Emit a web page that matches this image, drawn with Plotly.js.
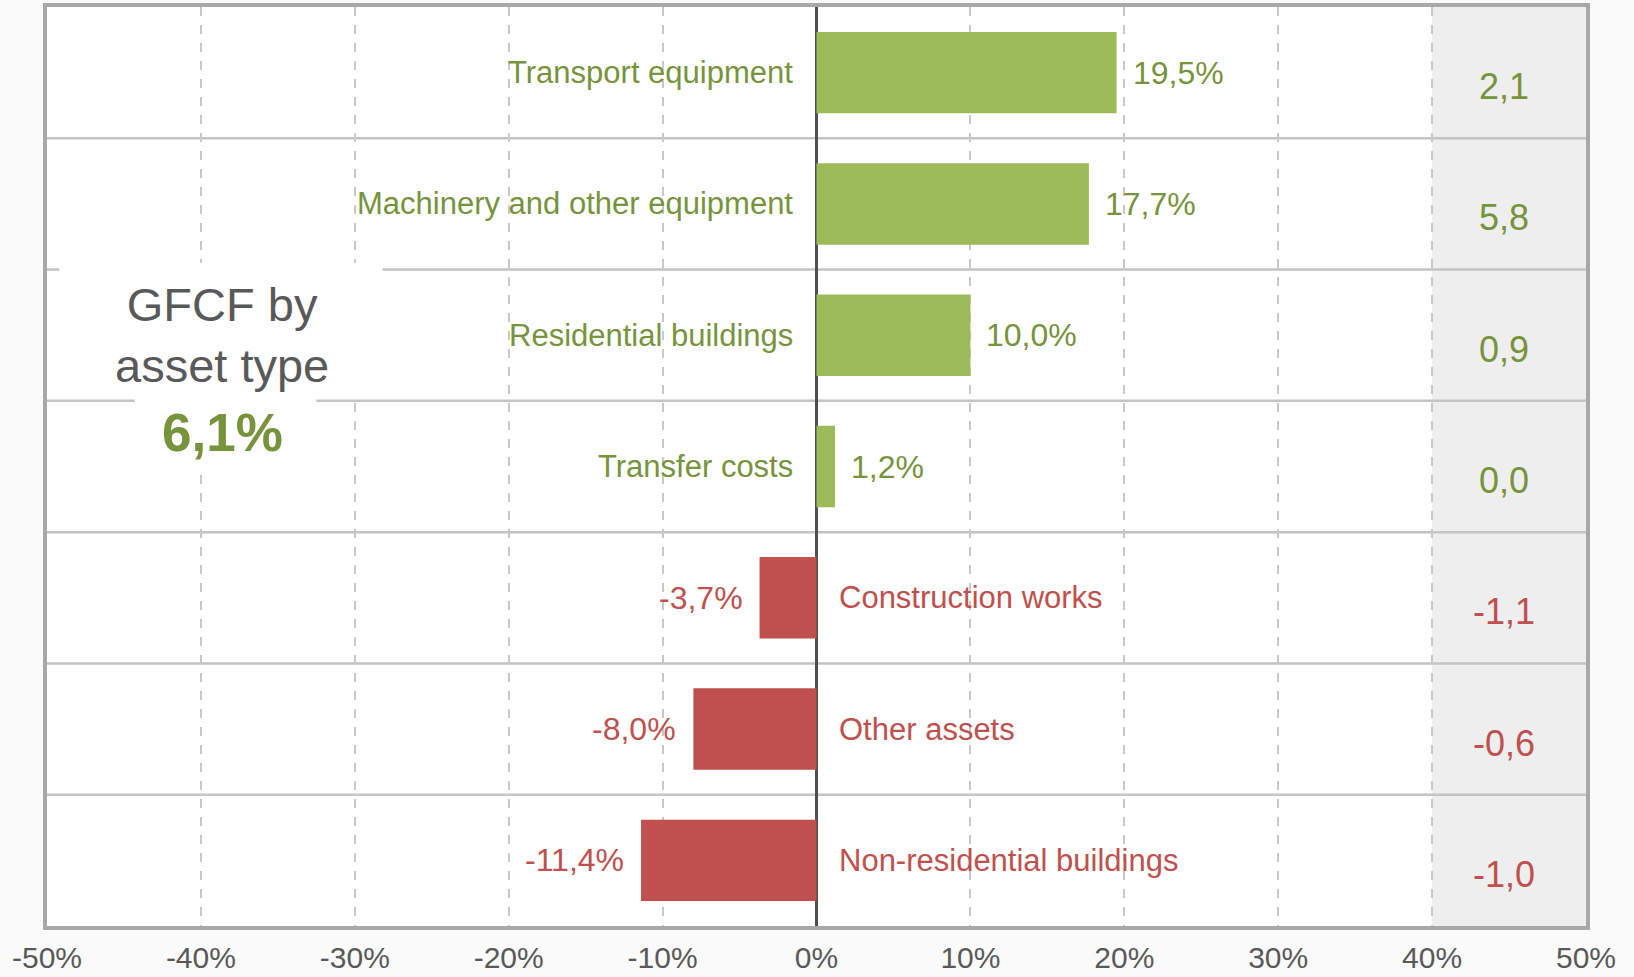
<!DOCTYPE html>
<html>
<head>
<meta charset="utf-8">
<script src="https://cdn.plot.ly/plotly-3.0.1.min.js"></script>
<style>
html,body{margin:0;padding:0;background:#fafafa;}
#chart{width:1634px;height:977px;}
</style>
</head>
<body>
<div id="chart"></div>
<script>
// ---- data ----
const categories = ["Transport equipment","Machinery and other equipment","Residential buildings","Transfer costs","Construction works","Other assets","Non-residential buildings"];
const growth = [19.5, 17.7, 10.0, 1.2, -3.7, -8.0, -11.4];
const growthLabels = ["19,5%","17,7%","10,0%","1,2%","-3,7%","-8,0%","-11,4%"];
const contributionLabels = ["2,1","5,8","0,9","0,0","-1,1","-0,6","-1,0"];
const contributionSign = [1, 1, 1, 0, -1, -1, -1];
const tickVals = [-50,-40,-30,-20,-10,0,10,20,30,40,50];
const tickText = ["-50%","-40%","-30%","-20%","-10%","0%","10%","20%","30%","40%","50%"];
const titleLines = "GFCF by<br>asset type";
const totalLabel = "6,1%";

// ---- styles ----
const GREEN_BAR = "#9BBB59", RED_BAR = "#C0504D";
const GREEN_TXT = "#77933C", RED_TXT = "#C0504D";
const FONT = "Liberation Sans, Arial, sans-serif";

const barColors = growth.map(v => v >= 0 ? GREEN_BAR : RED_BAR);

const trace = {
  type: "bar",
  orientation: "h",
  x: growth,
  y: categories,
  width: 0.62,
  marker: {color: barColors, line: {width: 0}},
  hoverinfo: "x+y",
  showlegend: false
};

const annotations = [];
categories.forEach((c, i) => {
  const pos = growth[i] >= 0;
  annotations.push({
    x: 0, y: c, xref: "x", yref: "y",
    text: c, showarrow: false,
    xanchor: pos ? "right" : "left",
    xshift: pos ? -22 : 20,
    font: {family: FONT, size: 31, color: pos ? GREEN_TXT : RED_TXT}
  });
  annotations.push({
    x: growth[i], y: c, xref: "x", yref: "y",
    text: growthLabels[i], showarrow: false,
    xanchor: pos ? "left" : "right",
    xshift: pos ? 14 : -15,
    font: {family: FONT, size: 32, color: pos ? GREEN_TXT : RED_TXT}
  });
  annotations.push({
    x: 44.7, y: c, xref: "x", yref: "y",
    text: contributionLabels[i], showarrow: false,
    xanchor: "center", yshift: -14,
    font: {family: FONT, size: 36, color: contributionSign[i] >= 0 ? GREEN_TXT : RED_TXT}
  });
});
annotations.push({
  x: -38.6, y: 2, xref: "x", yref: "y",
  text: titleLines, showarrow: false,
  xanchor: "center", yanchor: "middle",
  font: {family: FONT, size: 47, color: "#595959"}
});
annotations.push({
  x: -38.6, y: 2.74, xref: "x", yref: "y",
  text: "<b>" + totalLabel + "</b>", showarrow: false,
  xanchor: "center", yanchor: "middle",
  font: {family: FONT, size: 53, color: GREEN_TXT}
});

const shapes = [{
  type: "rect", xref: "x", yref: "paper", x0: 40, x1: 50, y0: 0, y1: 1,
  fillcolor: "#eeeeee", line: {width: 0}, layer: "below"
}];
for (let i = 0; i < categories.length - 1; i++) {
  shapes.push({
    type: "line", xref: "paper", yref: "y", x0: 0, x1: 1, y0: i + 0.5, y1: i + 0.5,
    line: {color: "#c4c4c4", width: 2.5}, layer: "below"
  });
}
// white backing boxes behind the title text
shapes.push({
  type: "rect", xref: "x", yref: "y", x0: -49.2, x1: -28.2, y0: 1.45, y1: 2.48,
  fillcolor: "#ffffff", line: {width: 0}, layer: "between"
});
shapes.push({
  type: "rect", xref: "x", yref: "y", x0: -44.3, x1: -32.5, y0: 2.48, y1: 3.0,
  fillcolor: "#ffffff", line: {width: 0}, layer: "between"
});

const layout = {
  width: 1634, height: 977,
  margin: {l: 47, r: 48, t: 7, b: 51},
  paper_bgcolor: "#fafafa",
  plot_bgcolor: "#ffffff",
  font: {family: FONT, color: "#595959"},
  bargap: 0.38,
  xaxis: {
    range: [-50, 50],
    tickvals: tickVals, ticktext: tickText,
    tickfont: {family: FONT, size: 30, color: "#595959"},
    showgrid: true, gridcolor: "#c8c8c8", griddash: "dash", gridwidth: 1.5,
    zeroline: true, zerolinecolor: "#505050", zerolinewidth: 3,
    showline: true, mirror: true, linecolor: "#a8a8a8", linewidth: 4,
    ticks: "", ticklabelstandoff: 2,
    fixedrange: true
  },
  yaxis: {
    type: "category",
    autorange: false,
    range: [6.5, -0.5],
    showticklabels: false,
    showgrid: false, zeroline: false,
    showline: true, mirror: true, linecolor: "#a8a8a8", linewidth: 4,
    ticks: "",
    fixedrange: true
  },
  shapes: shapes,
  annotations: annotations
};

Plotly.newPlot("chart", [trace], layout, {displayModeBar: false});
</script>
</body>
</html>
